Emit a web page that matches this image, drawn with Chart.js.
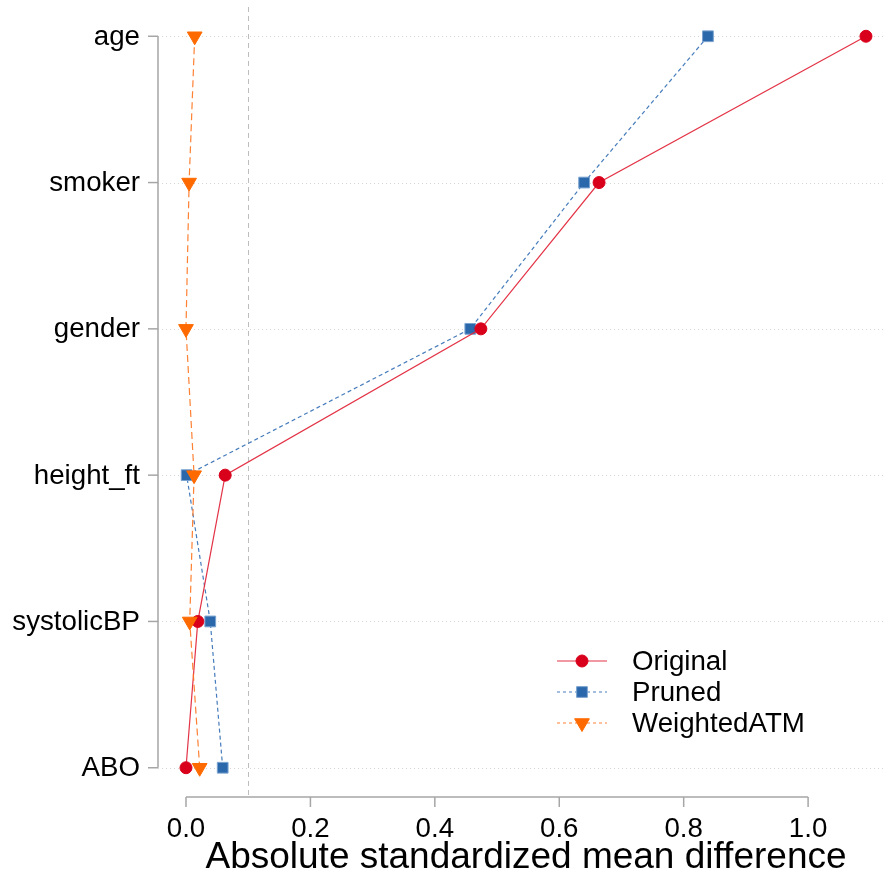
<!DOCTYPE html>
<html>
<head>
<meta charset="utf-8">
<title>Covariate balance</title>
<script src="https://cdn.jsdelivr.net/npm/chart.js@4/dist/chart.umd.min.js"></script>
<style>
  html, body { margin: 0; padding: 0; background: #ffffff; overflow: hidden; }
  #wrap { width: 884px; height: 871px; }
</style>
</head>
<body>
<div id="wrap"><canvas id="c" width="884" height="871"></canvas></div>
<script>
// Covariates, listed top to bottom
const categories = ['age', 'smoker', 'gender', 'height_ft', 'systolicBP', 'ABO'];

// Absolute standardized mean differences per sample
const original    = [1.093, 0.664, 0.474, 0.063, 0.019, 0.000];
const pruned      = [0.839, 0.640, 0.457, 0.001, 0.039, 0.059];
const weightedATM = [0.014, 0.005, 0.000, 0.013, 0.006, 0.022];

const xTicks = [0.0, 0.2, 0.4, 0.6, 0.8, 1.0];
const threshold = 0.1;
const xTitle = 'Absolute standardized mean difference';

const FONT = '"Liberation Sans", Arial, Helvetica, sans-serif';

const toPoints = vals => vals.map((v, i) => ({ x: v, y: i }));

const series = [
  { label: 'Original', values: original, line: 'rgba(226,40,60,0.95)', marker: '#d9001b',
    border: '#d9001b', dash: [], style: 'circle', radius: 6, rot: 0, order: 1 },
  { label: 'Pruned', values: pruned, line: 'rgba(50,110,180,0.9)', marker: '#2b67ab',
    border: '#7aa3d0', dash: [4, 3], style: 'rect', radius: 7.6, rot: 0, order: 2 },
  { label: 'WeightedATM', values: weightedATM, line: 'rgba(255,115,30,0.9)', marker: '#ff6a00',
    border: '#ff6a00', dash: [7, 4], style: 'triangle', radius: 8.5, rot: 180, order: 0 }
];

// Grid lines, threshold line, axes, labels and legend in R base style
const decor = {
  id: 'decor',
  beforeDatasetsDraw(chart) {
    const ctx = chart.ctx, x = chart.scales.x, y = chart.scales.y, a = chart.chartArea;
    ctx.save();
    // dotted horizontal guides at each covariate
    ctx.strokeStyle = '#d6d6d6';
    ctx.lineWidth = 1;
    ctx.setLineDash([1, 3]);
    categories.forEach((c, i) => {
      const py = Math.round(y.getPixelForValue(i)) + 0.5;
      ctx.beginPath(); ctx.moveTo(a.left, py); ctx.lineTo(a.right, py); ctx.stroke();
    });
    // threshold line
    ctx.strokeStyle = '#bdbdbd';
    ctx.setLineDash([5, 4]);
    const tx = Math.round(x.getPixelForValue(threshold)) + 0.5;
    ctx.beginPath(); ctx.moveTo(tx, a.top); ctx.lineTo(tx, a.bottom); ctx.stroke();
    ctx.restore();
  },
  afterDraw(chart) {
    const ctx = chart.ctx, x = chart.scales.x, y = chart.scales.y, a = chart.chartArea;
    ctx.save();
    ctx.setLineDash([]);
    ctx.strokeStyle = '#a6a6a6';
    ctx.lineWidth = 1.5;
    // y axis
    const ax = a.left;
    const yTop = y.getPixelForValue(0), yBot = y.getPixelForValue(categories.length - 1);
    ctx.beginPath(); ctx.moveTo(ax, yTop); ctx.lineTo(ax, yBot); ctx.stroke();
    ctx.fillStyle = '#000';
    ctx.font = '27.7px ' + FONT;
    ctx.textAlign = 'right';
    ctx.textBaseline = 'middle';
    categories.forEach((c, i) => {
      const py = y.getPixelForValue(i);
      ctx.beginPath(); ctx.moveTo(ax - 10, py); ctx.lineTo(ax, py); ctx.stroke();
      ctx.fillText(c, ax - 18, py + 1);
    });
    // x axis
    const by = a.bottom;
    const x0 = x.getPixelForValue(xTicks[0]), x1 = x.getPixelForValue(xTicks[xTicks.length - 1]);
    ctx.beginPath(); ctx.moveTo(x0, by); ctx.lineTo(x1, by); ctx.stroke();
    ctx.textAlign = 'center';
    ctx.textBaseline = 'middle';
    xTicks.forEach(t => {
      const px = x.getPixelForValue(t);
      ctx.beginPath(); ctx.moveTo(px, by); ctx.lineTo(px, by + 10); ctx.stroke();
      ctx.fillText(t.toFixed(1), px, by + 32);
    });
    ctx.font = '37px ' + FONT;
    ctx.fillText(xTitle, 526, by + 61);

    // legend
    const lx = 557, ly = 661, gap = 31;
    series.forEach((s, i) => {
      const py = ly + i * gap;
      ctx.strokeStyle = s.line;
      ctx.lineWidth = 1;
      ctx.setLineDash(s.dash.length ? [3, 3] : []);
      ctx.beginPath(); ctx.moveTo(lx, py); ctx.lineTo(lx + 50, py); ctx.stroke();
      ctx.setLineDash([]);
      ctx.fillStyle = s.marker;
      ctx.strokeStyle = s.border;
      Chart.helpers.drawPoint(ctx, {
        pointStyle: s.style, radius: s.radius, rotation: s.rot, borderWidth: 1
      }, lx + 25, py);
      ctx.fillStyle = '#000';
      ctx.font = '27.7px ' + FONT;
      ctx.textAlign = 'left';
      ctx.textBaseline = 'middle';
      ctx.fillText(s.label, lx + 75, py + 1);
    });
    ctx.restore();
  }
};

new Chart(document.getElementById('c'), {
  type: 'scatter',
  data: {
    datasets: series.map(s => ({
      label: s.label,
      data: toPoints(s.values),
      showLine: true,
      borderColor: s.line,
      borderWidth: 1.2,
      borderDash: s.dash,
      pointStyle: s.style,
      pointRadius: s.radius,
      pointHoverRadius: s.radius,
      pointRotation: s.rot,
      pointBackgroundColor: s.marker,
      pointBorderColor: s.border,
      pointBorderWidth: 1,
      order: s.order,
      clip: false,
      tension: 0
    }))
  },
  options: {
    responsive: false,
    animation: false,
    devicePixelRatio: 1,
    layout: { autoPadding: false, padding: { left: 158, right: 0, top: 7, bottom: 74 } },
    plugins: { legend: { display: false }, tooltip: { enabled: false } },
    scales: {
      x: { type: 'linear', display: false, min: -0.045, max: 1.122 },
      y: { type: 'linear', display: false, reverse: true, min: -0.2, max: 5.2 }
    }
  },
  plugins: [decor]
});
</script>
</body>
</html>
